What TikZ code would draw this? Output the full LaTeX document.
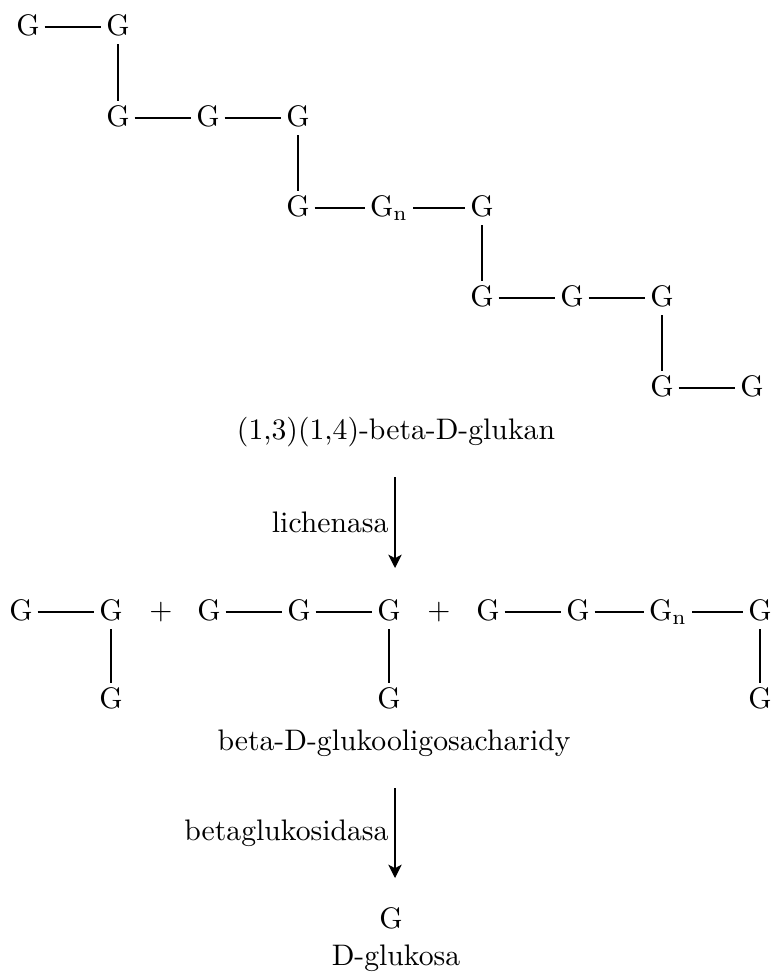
\documentclass[tikz,border=0pt]{standalone}
\usepackage{tikz}
\usetikzlibrary{positioning,arrows.meta}
\usepackage{amsmath,amssymb}

\begin{document}
\begin{tikzpicture}[x=0.3367pt, y=-0.3367pt,
      every node/.style={inner sep=2pt},
      sug/.style={text height=1.6ex, text depth=0.3ex, inner sep=1.5pt},
      arr/.style={-{Stealth[length=4.5pt, width=4.5pt, inset=1.2pt]}}]
  %.
  \useasboundingbox (0,0) rectangle (772,974);
  % (1,3)(1,4)-beta-D-glukan
  \node[sug] (a1) at (28,27) {G};
  \node[sug] (a2) at (118,27) {G};
  \node[sug] (a3) at (118,118) {G};
  \node[sug] (a4) at (208,118) {G};
  \node[sug] (a5) at (298,118) {G};
  \node[sug] (a6) at (298,208) {G};
  \node[sug] (a7) at (389,208) {G$_{\mathrm{n}}$};
  \node[sug] (a8) at (482,208) {G};
  \node[sug] (a9) at (482,298) {G};
  \node[sug] (a10) at (572,298) {G};
  \node[sug] (a11) at (662,298) {G};
  \node[sug] (a12) at (662,388) {G};
  \node[sug] (a13) at (752,388) {G};
  \draw (a1) -- (a2) -- (a3) -- (a4) -- (a5) -- (a6) -- (a7) -- (a8)
        -- (a9) -- (a10) -- (a11) -- (a12) -- (a13);
  \node (glukan) at (396,432) {(1,3)(1,4)-beta-D-glukan};
  %.
  \coordinate (s1) at (395,477);
  \coordinate (e1) at (395,568);
  \draw[arr] (s1) -- node[left] {lichenasa} (e1);
  %.
  % beta-D-glukooligosacharidy
  \node[sug] (b1) at (21,612) {G};
  \node[sug] (b2) at (111,612) {G};
  \node[sug] (b3) at (111,700) {G};
  \node (p1) at (161,612) {$+$};
  \node[sug] (b4) at (209,612) {G};
  \node[sug] (b5) at (299,612) {G};
  \node[sug] (b6) at (389,612) {G};
  \node[sug] (b7) at (389,700) {G};
  \node (p2) at (439,612) {$+$};
  \node[sug] (b8) at (488,612) {G};
  \node[sug] (b9) at (578,612) {G};
  \node[sug] (b10) at (668,612) {G$_{\mathrm{n}}$};
  \node[sug] (b11) at (760,612) {G};
  \node[sug] (b12) at (760,700) {G};
  \draw (b1) -- (b2) -- (b3);
  \draw (b4) -- (b5) -- (b6) -- (b7);
  \draw (b8) -- (b9) -- (b10) -- (b11) -- (b12);
  \node (oligo) at (394,743) {beta-D-glukooligosacharidy};
  %.
  \coordinate (s2) at (395,788);
  \coordinate (e2) at (395,878);
  \draw[arr] (s2) -- node[left] {betaglukosidasa} (e2);
  %.
  \node[sug] (g) at (391,920) {G};
  \node (glukosa) at (396,958) {D-glukosa};
  %.
\end{tikzpicture}
\end{document}
